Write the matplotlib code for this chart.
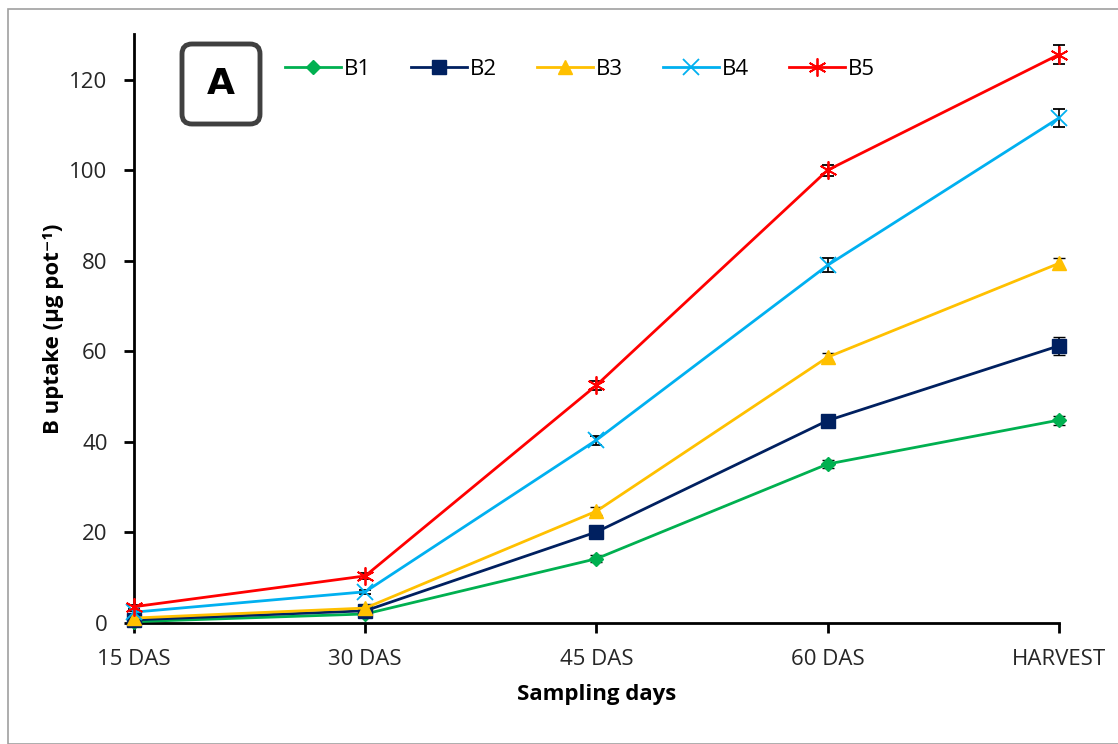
import numpy as np
import matplotlib
matplotlib.use('Agg')
import matplotlib.pyplot as plt
from matplotlib.patches import FancyBboxPatch, Rectangle
from matplotlib.lines import Line2D

''' ========== data read off the reference ========== '''
days = ['15 DAS', '30 DAS', '45 DAS', '60 DAS', 'HARVEST']
series_names = ['B1', 'B2', 'B3', 'B4', 'B5']

b1 = [0.3, 2.0, 14.2, 35.1, 44.8]
b2 = [0.7, 2.7, 20.1, 44.7, 61.2]
b3 = [1.1, 3.3, 24.7, 58.7, 79.4]
b4 = [2.4, 6.9, 40.4, 79.0, 111.5]
b5 = [3.6, 10.4, 52.5, 100.0, 125.5]

b1_err = [0.2, 0.4, 0.8, 0.9, 1.0]
b2_err = [0.3, 0.5, 0.8, 1.0, 2.0]
b3_err = [0.3, 0.5, 0.9, 1.0, 1.3]
b4_err = [0.3, 0.5, 1.0, 1.6, 2.0]
b5_err = [0.4, 0.6, 1.0, 1.2, 2.1]

values = [b1, b2, b3, b4, b5]
errors = [b1_err, b2_err, b3_err, b4_err, b5_err]
colors = ['#00B050', '#002060', '#FFC000', '#00B0F0', '#FF0000']
markers = ['D', 's', '^', 'x', (6, 2, 0)]
msizes = [7, 10, 10, 11, 13]

plt.rcParams['font.family'] = ['Open Sans', 'DejaVu Sans']

fig = plt.figure(figsize=(11.18, 7.44), dpi=100)
ax = fig.add_axes([0.1199, 0.1626, 0.8272, 0.7914])

x = np.arange(len(days))
handles = []
for name, vals, errs, col, mk, ms in zip(series_names, values, errors, colors, markers, msizes):
    mew = 1.3 if mk in ('x', (6, 2, 0)) else 1
    ax.errorbar(x, vals, yerr=errs, color=col, ecolor='black', elinewidth=1.2, capsize=4, capthick=1.2,
                marker=mk, markersize=ms, markeredgewidth=mew, linewidth=2, zorder=3, clip_on=False)
    handles.append(Line2D([], [], color=col, marker=mk, markersize=ms, markeredgewidth=mew,
                          linewidth=2, label=name))

ax.set_xlim(0, 4)
ax.set_ylim(0, 130)
ax.set_yticks(np.arange(0, 121, 20))
ax.set_xticks(x)
ax.set_xticklabels(days)
ax.tick_params(axis='both', labelsize=16, length=7, width=2, colors='black', labelcolor='#262626')
ax.tick_params(axis='x', pad=12)
ax.tick_params(axis='y', pad=12)
for s in ['top', 'right']:
    ax.spines[s].set_visible(False)
for s in ['left', 'bottom']:
    ax.spines[s].set_linewidth(2)

ax.set_xlabel('Sampling days', fontsize=16, fontweight='bold', labelpad=10)
ax.set_ylabel('B uptake (µg pot⁻¹)', fontsize=16, fontweight='bold', labelpad=4)

ax.legend(handles=handles, loc='center left', bbox_to_anchor=(0.142, 0.94), ncol=5, frameon=False,
          fontsize=16, handlelength=2.5, columnspacing=1.8, handletextpad=0.15)

# 'A' panel label box
box = FancyBboxPatch((182, 744 - 124), 78, 80, boxstyle='round,pad=0,rounding_size=10',
                     transform=None, facecolor='white', edgecolor='#404040', linewidth=3.5)
fig.patches.append(box)
fig.text(221 / 1118, 1 - 84 / 744, 'A', fontsize=26, fontweight='bold', ha='center', va='center',
         family=['DejaVu Sans'])

# outer frame
frame = Rectangle((8 / 1118, 0), 1.2, 1 - 9 / 744, transform=fig.transFigure, fill=False,
                  edgecolor='#A0A0A0', linewidth=1.2)
fig.patches.append(frame)

fig.savefig('out.png', dpi=100)
